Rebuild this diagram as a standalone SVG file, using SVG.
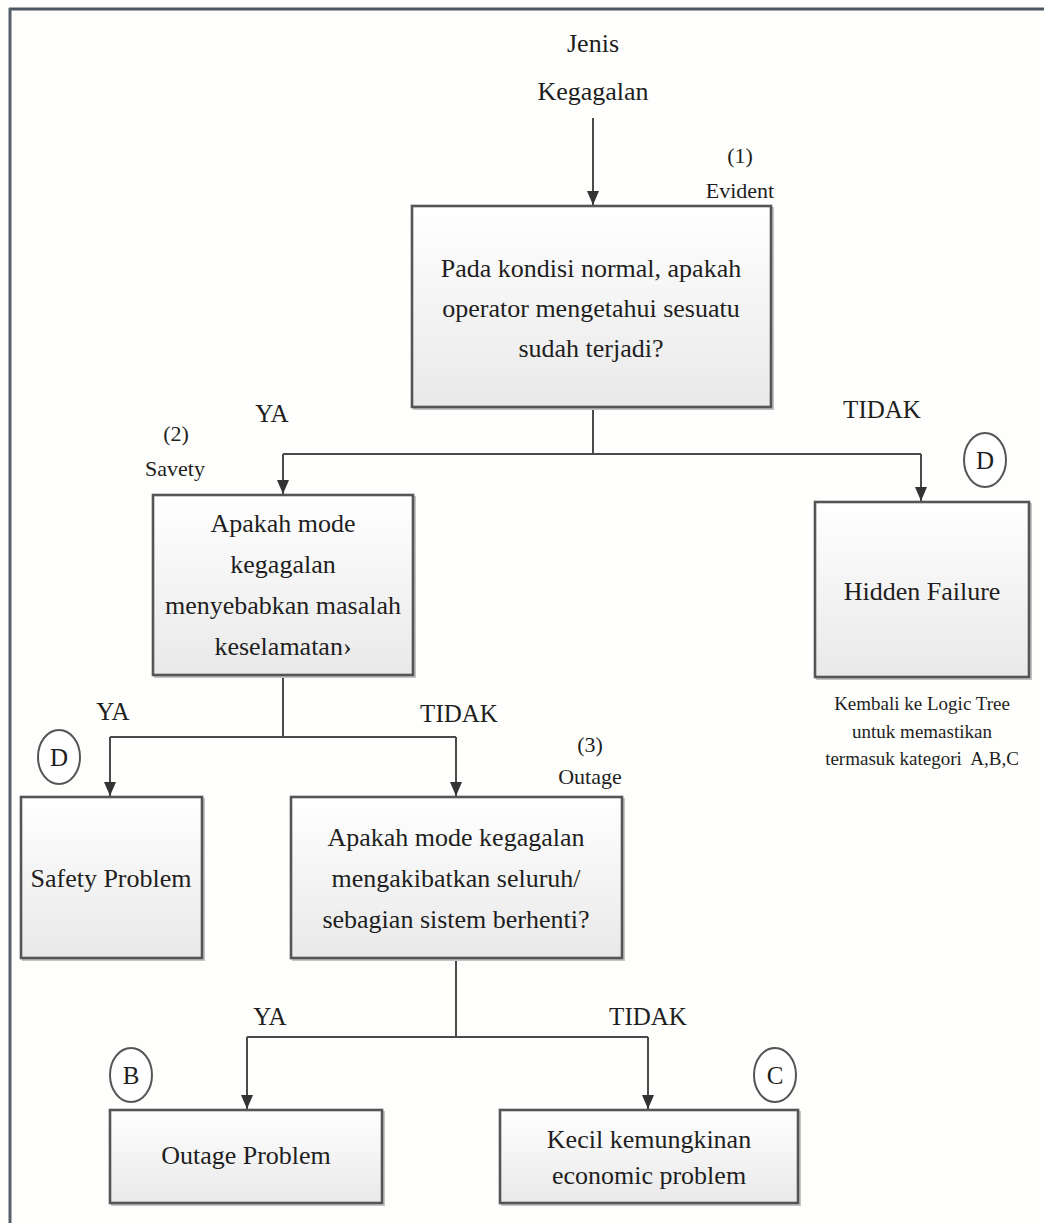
<svg xmlns="http://www.w3.org/2000/svg" width="1044" height="1223" viewBox="0 0 1044 1223" font-family="'Liberation Serif', 'DejaVu Serif', serif">
  <style>
    text { font-family: "Liberation Serif", "DejaVu Serif", serif; fill: #1e1e1e; text-anchor: middle; }
    .big { font-size: 26px; }
    .lbl { font-size: 25px; }
    .tag { font-size: 22px; }
    .note { font-size: 19px; }
    .box { fill: url(#boxFill); stroke: #555; stroke-width: 2.6; }
    .shade { fill: none; stroke: #c4c4c4; stroke-width: 2; }
    .badge { fill: #fff; stroke: #555; stroke-width: 2; }
    .wire { fill: none; stroke: #4a4a4a; stroke-width: 2; }
    .wire-arrow { fill: none; stroke: #4a4a4a; stroke-width: 2; marker-end: url(#head); }
  </style>
  <defs>
    <linearGradient id="boxFill" x1="0" y1="0" x2="0" y2="1">
      <stop offset="0" stop-color="#ffffff"/>
      <stop offset="1" stop-color="#e9e9e9"/>
    </linearGradient>
    <!-- filled arrowhead; tip sits on the end of the line -->
    <marker id="head" viewBox="0 0 14 12" refX="14" refY="6" markerWidth="14" markerHeight="12" markerUnits="userSpaceOnUse" orient="auto">
      <path d="M0,0 L14,6 L0,12 Z" fill="#333"/>
    </marker>
  </defs>

  <!-- page and frame -->
  <rect x="0" y="0" width="1044" height="1223" fill="#fefefc"/>
  <line x1="9" y1="9" x2="1044" y2="9" stroke="#4d5862" stroke-width="3"/>
  <line x1="10" y1="8" x2="10" y2="1223" stroke="#56606a" stroke-width="3"/>

  <!-- connectors -->
  <g id="connectors">
    <path class="wire-arrow" d="M593,118 V205"/>
    <path class="wire" d="M593,407 V454 M283,454 H921"/>
    <path class="wire-arrow" d="M283,454 V494"/>
    <path class="wire-arrow" d="M921,454 V501"/>
    <path class="wire" d="M283,675 V737 M110,737 H456"/>
    <path class="wire-arrow" d="M110,737 V796"/>
    <path class="wire-arrow" d="M456,737 V796"/>
    <path class="wire" d="M456,958 V1037 M247,1037 H648"/>
    <path class="wire-arrow" d="M247,1037 V1109"/>
    <path class="wire-arrow" d="M648,1037 V1109"/>
  </g>

  <!-- branch labels -->
  <g id="branch-labels" class="lbl">
    <text x="272" y="422">YA</text>
    <text x="882" y="418">TIDAK</text>
    <text x="113" y="720">YA</text>
    <text x="459" y="722">TIDAK</text>
    <text x="270" y="1025">YA</text>
    <text x="648" y="1025">TIDAK</text>
  </g>

  <g id="start">
    <text class="big" x="593" y="52">Jenis</text>
    <text class="big" x="593" y="100">Kegagalan</text>
  </g>

  <g id="q1-evident">
    <rect class="shade" x="414" y="208" width="359" height="201"/>
    <rect class="box" x="412" y="206" width="359" height="201"/>
    <text class="tag" x="740" y="163">(1)</text>
    <text class="tag" x="740" y="198">Evident</text>
    <text class="big" x="591" y="277">Pada kondisi normal, apakah</text>
    <text class="big" x="591" y="317">operator mengetahui sesuatu</text>
    <text class="big" x="591" y="357">sudah terjadi?</text>
  </g>

  <g id="q2-safety">
    <rect class="shade" x="155" y="497" width="260" height="180"/>
    <rect class="box" x="153" y="495" width="260" height="180"/>
    <text class="tag" x="176" y="441">(2)</text>
    <text class="tag" x="175" y="476">Savety</text>
    <text class="big" x="283" y="532">Apakah mode</text>
    <text class="big" x="283" y="573">kegagalan</text>
    <text class="big" x="283" y="614">menyebabkan masalah</text>
    <text class="big" x="283" y="655">keselamatan›</text>
  </g>

  <g id="hidden-failure">
    <ellipse class="badge" cx="985" cy="460" rx="21" ry="27"/>
    <text class="lbl" x="985" y="469">D</text>
    <rect class="shade" x="817" y="504" width="214" height="175"/>
    <rect class="box" x="815" y="502" width="214" height="175"/>
    <text class="big" x="922" y="600">Hidden Failure</text>
    <text class="note" x="922" y="710">Kembali ke Logic Tree</text>
    <text class="note" x="922" y="738">untuk memastikan</text>
    <text class="note" x="922" y="765" xml:space="preserve">termasuk kategori  A,B,C</text>
  </g>

  <g id="safety-problem">
    <ellipse class="badge" cx="59" cy="757" rx="21" ry="27"/>
    <text class="lbl" x="59" y="766">D</text>
    <rect class="shade" x="23" y="799" width="181" height="161"/>
    <rect class="box" x="21" y="797" width="181" height="161"/>
    <text class="big" x="111" y="887">Safety Problem</text>
  </g>

  <g id="q3-outage">
    <rect class="shade" x="293" y="799" width="331" height="161"/>
    <rect class="box" x="291" y="797" width="331" height="161"/>
    <text class="tag" x="590" y="752">(3)</text>
    <text class="tag" x="590" y="784">Outage</text>
    <text class="big" x="456" y="846">Apakah mode kegagalan</text>
    <text class="big" x="456" y="887">mengakibatkan seluruh/</text>
    <text class="big" x="456" y="928">sebagian sistem berhenti?</text>
  </g>

  <g id="outage-problem">
    <ellipse class="badge" cx="131" cy="1075" rx="21" ry="27"/>
    <text class="lbl" x="131" y="1084">B</text>
    <rect class="shade" x="112" y="1112" width="272" height="93"/>
    <rect class="box" x="110" y="1110" width="272" height="93"/>
    <text class="big" x="246" y="1164">Outage Problem</text>
  </g>

  <g id="economic-problem">
    <ellipse class="badge" cx="775" cy="1075" rx="21" ry="27"/>
    <text class="lbl" x="775" y="1084">C</text>
    <rect class="shade" x="502" y="1112" width="298" height="93"/>
    <rect class="box" x="500" y="1110" width="298" height="93"/>
    <text class="big" x="649" y="1148">Kecil kemungkinan</text>
    <text class="big" x="649" y="1184">economic problem</text>
  </g>
</svg>
